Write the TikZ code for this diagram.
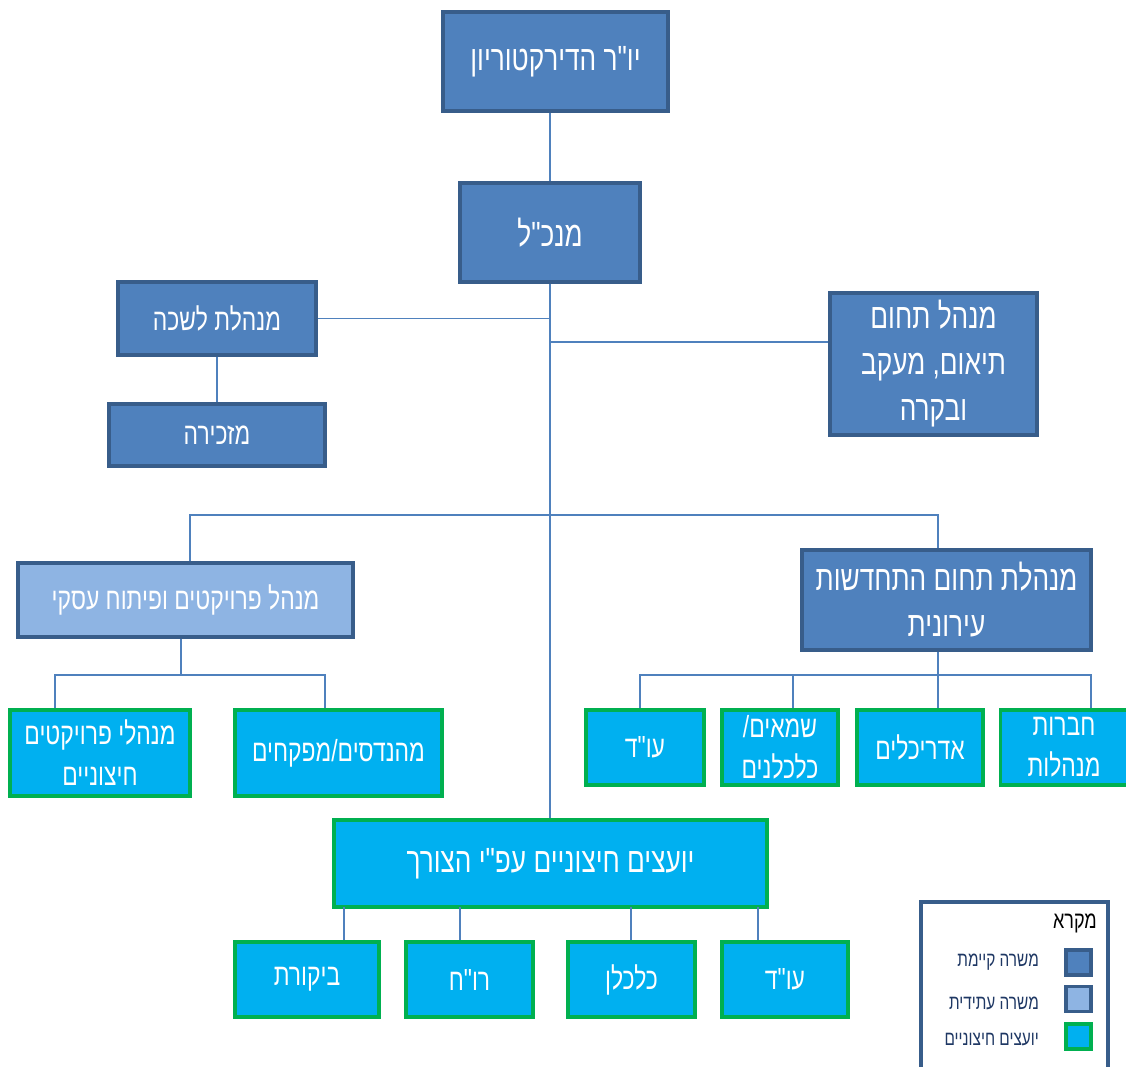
\documentclass[tikz,border=0pt]{standalone}
\usepackage{fontspec}
\TeXXeTstate=1
\newfontfamily\hebfont[Script=Hebrew,FakeStretch=0.75]{Liberation Sans}
\newcommand\hb[1]{\beginR#1\endR}
\definecolor{dkfill}{HTML}{4F81BD}
\definecolor{dkline}{HTML}{385D8A}
\definecolor{ltfill}{HTML}{8EB4E3}
\definecolor{cyanfill}{HTML}{00B0F0}
\definecolor{grn}{HTML}{00B050}
\definecolor{connc}{HTML}{4F81BD}
\definecolor{legtxt}{HTML}{1F3864}
\begin{document}
\begin{tikzpicture}[x=1pt,y=-1pt,
 box/.style={rectangle, inner sep=0pt, align=center, text=white, font=\hebfont\fontsize{30.5}{41}\selectfont, line width=3.2pt},
 big/.style={font=\hebfont\fontsize{35}{46}\selectfont},
 dk/.style={box, fill=dkfill, draw=dkline},
 lt/.style={box, fill=ltfill, draw=dkline},
 ext/.style={box, fill=cyanfill, draw=grn},
 connl/.style={draw=connc, line width=1.8pt},
 legl/.style={anchor=east, text=legtxt, font=\hebfont\fontsize{20.5}{23}\selectfont, inner sep=0pt},
 sw/.style={rectangle, inner sep=0pt, minimum width=25pt, minimum height=25pt, line width=3.2pt},
]
\useasboundingbox (0,0) rectangle (1126,1066);
\fill[white] (0,0) rectangle (1126,1066);

% boxes
\node[dk, big, minimum width=225pt, minimum height=99pt] (A) at (555.5,61.5) {\hb{יו"ר הדירקטוריון}};
\node[dk, big, minimum width=180pt, minimum height=99pt] (B) at (550,232.5) {\hb{מנכ"ל}};
\node[dk, minimum width=198pt, minimum height=73pt] (C) at (217,318.5) {\hb{מנהלת לשכה}};
\node[dk, minimum width=216pt, minimum height=62pt] (D) at (217,435) {\hb{מזכירה}};
\node[dk, big, minimum width=207pt, minimum height=142pt] (E) at (933.5,364) {\hb{מנהל תחום}\\\hb{תיאום, מעקב}\\\hb{ובקרה}};
\node[lt, minimum width=335pt, minimum height=74pt] (F) at (185.5,600) {\hb{מנהל פרויקטים ופיתוח עסקי}};
\node[dk, big, minimum width=289pt, minimum height=100pt] (G) at (946.5,600) {\hb{מנהלת תחום התחדשות}\\\hb{עירונית}};

\node[ext, minimum width=180pt, minimum height=86pt] (F1) at (100,753) {\hb{מנהלי פרויקטים}\\\hb{חיצוניים}};
\node[ext, minimum width=207pt, minimum height=86pt] (F2) at (338.5,753) {\hb{מהנדסים/מפקחים}};

\node[ext, minimum width=118pt, minimum height=75pt] (G1) at (645,747.5) {\hb{עו"ד}};
\node[ext, minimum width=116pt, minimum height=75pt] (G2) at (780,747.5) {\hb{שמאים/}\\\hb{כלכלנים}};
\node[ext, minimum width=126pt, minimum height=75pt] (G3) at (920,747.5) {\hb{אדריכלים}};
\node[ext, minimum width=127pt, minimum height=75pt] (G4) at (1064,747.5) {\hb{חברות}\\\hb{מנהלות}};

\node[ext, big, minimum width=433pt, minimum height=87pt] (H) at (550.5,863.5) {\hb{יועצים חיצוניים עפ"י הצורך}};
\node[ext, minimum width=144pt, minimum height=75pt] (H1) at (307,979.5) {\hb{ביקורת}};
\node[ext, minimum width=127pt, minimum height=75pt] (H2) at (469.5,979.5) {\hb{רו"ח}};
\node[ext, minimum width=127pt, minimum height=75pt] (H3) at (631.5,979.5) {\hb{כלכלן}};
\node[ext, minimum width=126pt, minimum height=75pt] (H4) at (785,979.5) {\hb{עו"ד}};

% connectors
\draw[connl] (B.north |- A.south) -- (B.north);
\draw[connl] (B.south) -- (B.south |- H.north);
\draw[connl] (C.east) -- (C.east -| B.south);
\draw[connl] (C.south) -- (D.north);
\coordinate (eA) at (550,342);
\draw[connl] (eA) -- (E.west |- eA);
\coordinate (fl) at (190,515);
\coordinate (gr) at (938,515);
\draw[connl] (fl |- F.north) -- (fl) -- (gr) -- (gr |- G.north);

% F children
\coordinate (fb) at (181,675);
\coordinate (fbl) at (55,675);
\coordinate (fbr) at (325,675);
\draw[connl] (fb |- F.south) -- (fb);
\draw[connl] (fbl |- F1.north) -- (fbl) -- (fbr) -- (fbr |- F2.north);

% G children
\coordinate (gb) at (938,675);
\coordinate (g1) at (640,675);
\coordinate (g2) at (793,675);
\coordinate (g4) at (1091,675);
\draw[connl] (gb |- G.south) -- (gb |- G3.north);
\draw[connl] (g1 |- G1.north) -- (g1) -- (g4) -- (g4 |- G4.north);
\draw[connl] (g2) -- (g2 |- G2.north);

% H children
\foreach \xx/\nn in {344/H1,460/H2,631/H3,758/H4}{
  \draw[connl] (\xx,907) -- (\xx,907 |- \nn.north);
}

% legend
\draw[draw=dkline, line width=3.2pt] (921,1090) -- (921,902) -- (1108,902) -- (1108,1090);
\node[anchor=north east, inner sep=0pt, font=\hebfont\fontsize{24}{26}\selectfont] (LT) at (1097,914) {\hb{מקרא}};
\node[sw, fill=dkfill, draw=dkline] (S1) at (1078.5,962.5) {};
\node[sw, fill=ltfill, draw=dkline] (S2) at (1078.5,999) {};
\node[sw, fill=cyanfill, draw=grn] (S3) at (1078.5,1036.5) {};
\node[legl] (L1) at (1039,962) {\hb{משרה קיימת}};
\node[legl] (L2) at (1039,1003) {\hb{משרה עתידית}};
\node[legl] (L3) at (1039,1040) {\hb{יועצים חיצוניים}};
\end{tikzpicture}
\end{document}
